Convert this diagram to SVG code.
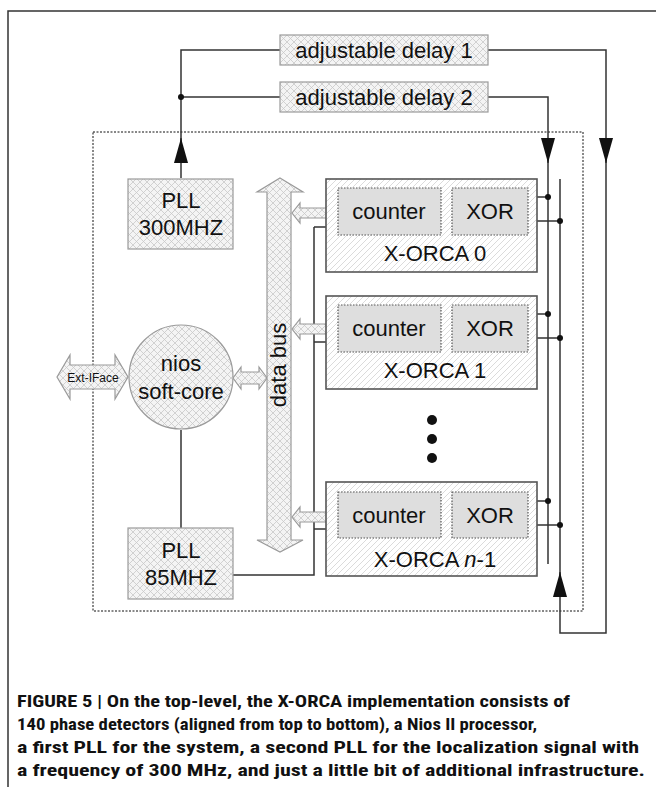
<svg xmlns="http://www.w3.org/2000/svg" width="656" height="787" viewBox="0 0 656 787">
  <defs>
    <!-- light cross-hatch used by delays, PLLs, CPU and bus arrows -->
    <pattern id="xhatch" width="7" height="7" patternUnits="userSpaceOnUse">
      <rect width="7" height="7" fill="#f4f4f4"/>
      <path d="M0,0 L7,7 M7,0 L0,7" stroke="#c8c8c8" stroke-width="0.8"/>
    </pattern>
    <!-- diagonal hatch for the X-ORCA blocks -->
    <pattern id="diag" width="6" height="6" patternUnits="userSpaceOnUse">
      <rect width="6" height="6" fill="#ffffff"/>
      <path d="M-1,1 L1,-1 M0,6 L6,0 M5,7 L7,5" stroke="#d2d2d2" stroke-width="0.8"/>
    </pattern>
    <!-- long narrow filled arrowhead, drawn along +x -->
    <marker id="tri" viewBox="0 0 25 14" refX="25" refY="7" markerWidth="25" markerHeight="14" markerUnits="userSpaceOnUse" orient="auto">
      <path d="M0,0 L25,7 L0,14 Z" fill="#111"/>
    </marker>
    <marker id="open" viewBox="0 0 8 10" refX="8" refY="5" markerWidth="8" markerHeight="10" markerUnits="userSpaceOnUse" orient="auto">
      <path d="M1,1 L7.5,5 L1,9" fill="none" stroke="#333" stroke-width="1.2"/>
    </marker>
  </defs>
  <style>
    .lbl { font-family: "Liberation Sans", Arial, sans-serif; font-size: 22px; fill: #111; text-anchor: middle; }
    .hb { fill: url(#xhatch); stroke: #9a9a9a; stroke-width: 1.2; }
    .orca { fill: url(#diag); stroke: #555; stroke-width: 1.6; }
    .sub { fill: #dedede; stroke: #555; stroke-width: 1.2; stroke-dasharray: 1.5 1.5; }
    .wire { fill: none; stroke: #333; stroke-width: 1.5; }
    .dot { fill: #111; }
    .cap { font-family: "Liberation Sans Narrow", "Roboto Condensed", "Liberation Sans", Arial, sans-serif; font-weight: bold; font-size: 17px; fill: #111; }
  </style>

  <rect width="656" height="787" fill="#ffffff"/>

  <!-- figure frame (open at right and bottom) -->
  <path d="M8,787 V11 H656" fill="none" stroke="#333" stroke-width="1.5"/>

  <!-- FPGA boundary -->
  <rect x="93" y="132" width="490" height="479" fill="none" stroke="#111" stroke-width="1" stroke-dasharray="2 1.5"/>

  <!-- connectors -->
  <g id="connectors">
    <!-- PLL 300MHz to both delays -->
    <path class="wire" d="M181,178 V50 H280"/>
    <path class="wire" d="M181,97 H280"/>
    <path class="wire" d="M181,163 V138" marker-end="url(#tri)"/>
    <circle class="dot" cx="181" cy="97" r="3"/>
    <!-- delay outputs down into the detector array -->
    <path class="wire" d="M488,50 H606 V633 H560 V179"/>
    <path class="wire" d="M488,97 H548 V564"/>
    <path class="wire" d="M548,138 V163" marker-end="url(#tri)"/>
    <path class="wire" d="M606,138 V163" marker-end="url(#tri)"/>
    <path class="wire" d="M560,597 V572" marker-end="url(#tri)"/>
    <!-- nios to PLL 85MHz, system clock to the counters -->
    <path class="wire" d="M181,430 V528"/>
    <path class="wire" d="M233,575 H314 V227"/>
    <path class="wire" d="M314,227 H338" marker-end="url(#open)"/>
    <path class="wire" d="M314,342 H338" marker-end="url(#open)"/>
    <path class="wire" d="M314,529 H338" marker-end="url(#open)"/>
    <!-- counter to XOR -->
    <path class="wire" d="M441,328 H452"/>
    <path class="wire" d="M441,515 H452"/>
    <!-- XOR inputs from the two delay lines -->
    <path class="wire" d="M537,197 H548 M537,221 H560"/>
    <path class="wire" d="M528,314 H548 M528,338 H560"/>
    <path class="wire" d="M528,501 H548 M528,525 H560"/>
    <circle class="dot" cx="548" cy="197" r="3"/>
    <circle class="dot" cx="560" cy="221" r="3"/>
    <circle class="dot" cx="548" cy="314" r="3"/>
    <circle class="dot" cx="560" cy="338" r="3"/>
    <circle class="dot" cx="548" cy="501" r="3"/>
    <circle class="dot" cx="560" cy="525" r="3"/>
    <!-- bus links -->
    <polygon class="hb" points="292,213 300,203 300,208 330,208 330,203 338,213 330,223 330,218 300,218 300,223"/>
    <polygon class="hb" points="292,329 300,319 300,324 330,324 330,319 338,329 330,339 330,334 300,334 300,339"/>
    <polygon class="hb" points="292,517 300,507 300,512 330,512 330,507 338,517 330,527 330,522 300,522 300,527"/>
    <polygon class="hb" points="233,378 241,367 241,372 259,372 259,367 267,378 259,389 259,384 241,384 241,389"/>
    <polygon class="hb" points="57,377 70,355 70,365 115,365 115,355 128,377 115,399 115,389 70,389 70,399"/>
  </g>
  <text x="93" y="381.5" font-family="Liberation Sans, Arial, sans-serif" font-size="12" fill="#111" text-anchor="middle">Ext-IFace</text>

  <g id="delay1">
    <rect class="hb" x="280" y="35" width="208" height="30"/>
    <text class="lbl" x="384" y="58">adjustable delay 1</text>
  </g>
  <g id="delay2">
    <rect class="hb" x="280" y="82" width="208" height="30"/>
    <text class="lbl" x="384" y="105">adjustable delay 2</text>
  </g>

  <g id="pll300">
    <rect class="hb" x="128" y="179" width="105" height="70"/>
    <text class="lbl" x="181" y="208">PLL</text>
    <text class="lbl" x="181" y="235">300MHZ</text>
  </g>

  <g id="nios">
    <circle class="hb" cx="181" cy="377" r="52"/>
    <text class="lbl" x="181" y="371">nios</text>
    <text class="lbl" x="181" y="399">soft-core</text>
  </g>

  <g id="pll85">
    <rect class="hb" x="128" y="528" width="105" height="71"/>
    <text class="lbl" x="181" y="558">PLL</text>
    <text class="lbl" x="181" y="585">85MHZ</text>
  </g>

  <g id="databus">
    <polygon class="hb" points="280,178 303,192 291,192 291,540 303,540 280,552 257,540 267,540 267,192 257,192"/>
    <text class="lbl" transform="translate(286,365) rotate(-90)">data bus</text>
  </g>

  <g id="xorca0">
    <rect class="orca" x="326" y="179" width="211" height="93"/>
    <rect class="sub" x="338" y="188" width="103" height="47"/>
    <rect class="sub" x="452" y="188" width="76" height="47"/>
    <text class="lbl" x="389" y="219">counter</text>
    <text class="lbl" x="490" y="219">XOR</text>
    <text class="lbl" x="435" y="261">X-ORCA 0</text>
  </g>

  <g id="xorca1">
    <rect class="orca" x="326" y="296" width="211" height="93"/>
    <rect class="sub" x="338" y="305" width="103" height="47"/>
    <rect class="sub" x="452" y="305" width="76" height="47"/>
    <text class="lbl" x="389" y="336">counter</text>
    <text class="lbl" x="490" y="336">XOR</text>
    <text class="lbl" x="435" y="378">X-ORCA 1</text>
  </g>

  <g id="ellipsis">
    <circle class="dot" cx="432" cy="420" r="5"/>
    <circle class="dot" cx="432" cy="439" r="5"/>
    <circle class="dot" cx="432" cy="458" r="5"/>
  </g>

  <g id="xorcaN">
    <rect class="orca" x="326" y="482" width="211" height="94"/>
    <rect class="sub" x="338" y="492" width="103" height="46"/>
    <rect class="sub" x="452" y="492" width="76" height="46"/>
    <text class="lbl" x="389" y="523">counter</text>
    <text class="lbl" x="490" y="523">XOR</text>
    <text class="lbl" x="435" y="567">X-ORCA <tspan font-style="italic">n</tspan>-1</text>
  </g>

  <g id="caption">
    <text class="cap" x="17" y="707" textLength="553" lengthAdjust="spacingAndGlyphs">FIGURE 5 | On the top-level, the X-ORCA implementation consists of</text>
    <text class="cap" x="17" y="730" textLength="520" lengthAdjust="spacingAndGlyphs">140 phase detectors (aligned from top to bottom), a Nios II processor,</text>
    <text class="cap" x="17" y="753" textLength="622" lengthAdjust="spacingAndGlyphs">a first PLL for the system, a second PLL for the localization signal with</text>
    <text class="cap" x="17" y="776" textLength="628" lengthAdjust="spacingAndGlyphs">a frequency of 300 MHz, and just a little bit of additional infrastructure.</text>
  </g>
</svg>
